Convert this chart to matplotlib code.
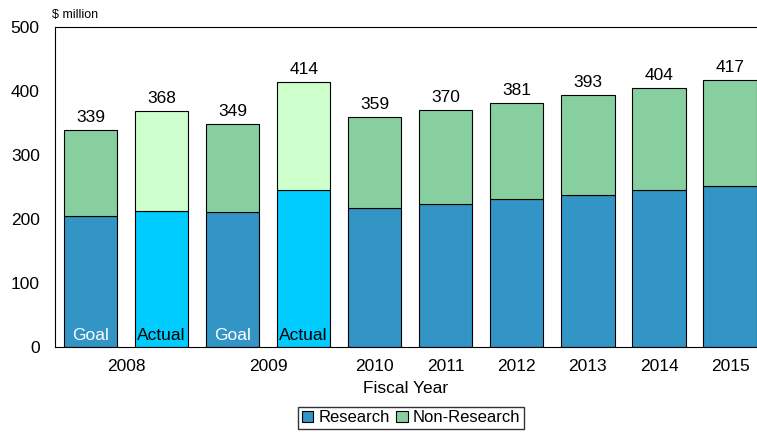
import matplotlib.pyplot as plt
from matplotlib.patches import Patch

# budget by fiscal year, $ million
bars = ["2008 Goal", "2008 Actual", "2009 Goal", "2009 Actual",
        "2010", "2011", "2012", "2013", "2014", "2015"]
totals = [339, 368, 349, 414, 359, 370, 381, 393, 404, 417]
research = [205, 212, 211, 246, 217, 223, 231, 238, 245, 252]
non_research = [t - r for t, r in zip(totals, research)]
inner_labels = ["Goal", "Actual", "Goal", "Actual", "", "", "", "", "", ""]
year_labels = ["2008", "2009", "2010", "2011", "2012", "2013", "2014", "2015"]
year_pos = [0.5, 2.5, 4, 5, 6, 7, 8, 9]

plt.rcParams['font.family'] = ['Liberation Sans', 'DejaVu Sans']

res_col = ["#3394c6", "#00ccff", "#3394c6", "#00ccff"] + ["#3394c6"] * 6
non_col = ["#88cfa0", "#ccffcc", "#88cfa0", "#ccffcc"] + ["#88cfa0"] * 6

fig = plt.figure(figsize=(7.57, 4.32), dpi=100)
ax = fig.add_axes([0.0727, 0.1968, 0.9273, 0.7407])

x = list(range(len(bars)))
ax.bar(x, research, width=0.75, color=res_col, edgecolor="black", linewidth=0.8)
ax.bar(x, non_research, width=0.75, bottom=research, color=non_col,
       edgecolor="black", linewidth=0.8)

for i, t in enumerate(totals):
    ax.text(i, t + 8, str(t), ha="center", va="bottom", fontsize=12.5)

for i, lab in enumerate(inner_labels):
    if lab:
        c = "white" if lab == "Goal" else "black"
        ax.text(i, 6, lab, ha="center", va="bottom", fontsize=12.5, color=c)

ax.set_xlim(-0.5, 9.38)
ax.set_ylim(0, 500)
ax.set_yticks([0, 100, 200, 300, 400, 500])
ax.set_xticks(year_pos)
ax.set_xticklabels(year_labels, fontsize=12.5)
ax.tick_params(axis="y", labelsize=12.5, length=0, pad=11)
ax.tick_params(axis="x", length=0, pad=9)
ax.spines["right"].set_visible(False)
ax.set_xlabel("Fiscal Year", fontsize=12.5, labelpad=5)
ax.text(-0.004, 1.02, "$ million", fontsize=9, ha="left", va="bottom",
        transform=ax.transAxes)

handles = [Patch(facecolor="#3394c6", edgecolor="black", linewidth=0.8),
           Patch(facecolor="#88cfa0", edgecolor="black", linewidth=0.8)]
fig.legend(handles, ["Research", "Non-Research"], loc="center",
           bbox_to_anchor=(0.543, 0.033), ncol=2, fontsize=12, frameon=True,
           fancybox=False, edgecolor="black", handlelength=0.7,
           handleheight=0.7, handletextpad=0.3, columnspacing=0.4,
           borderpad=0.2)

fig.savefig("out.png", dpi=100)
